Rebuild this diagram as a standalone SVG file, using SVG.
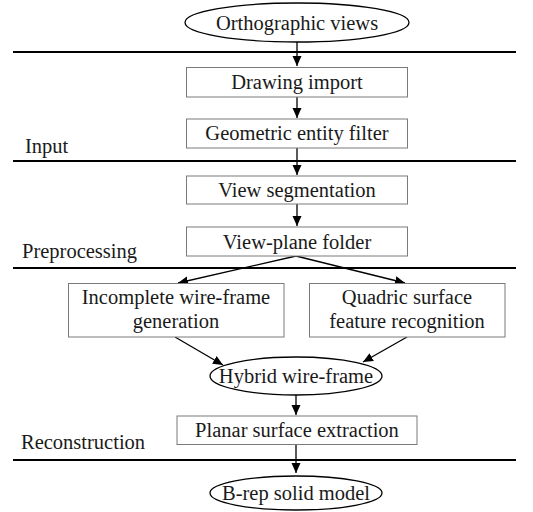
<svg xmlns="http://www.w3.org/2000/svg" width="533" height="512" viewBox="0 0 533 512" font-family="'Liberation Serif', 'Times New Roman', 'DejaVu Serif', serif">
<defs>
<marker id="ah" markerUnits="userSpaceOnUse" markerWidth="10" markerHeight="10" viewBox="0 0 10 10" refX="10" refY="5" orient="auto">
<path d="M0,0.5 L10,5 L0,9.5 Z" fill="#000"/>
</marker>
</defs>
<style>
text{font-family:'Liberation Serif','Times New Roman','DejaVu Serif',serif;font-size:20.5px;fill:#1a1a1a;text-anchor:middle}
.lbl{text-anchor:start}
.box{fill:#fff;stroke:#7a7a7a;stroke-width:1}
.ell{fill:#fff;stroke:#000;stroke-width:1.3}
.sep{stroke:#000;stroke-width:2.2}
.con{stroke:#000;stroke-width:1.3;fill:none;marker-end:url(#ah)}
</style>
<rect width="533" height="512" fill="#fff"/>
<g id="separators">
<line class="sep" x1="13" y1="52" x2="516" y2="52"/>
<line class="sep" x1="13" y1="161" x2="516" y2="161"/>
<line class="sep" x1="13" y1="268" x2="516" y2="268"/>
<line class="sep" x1="13" y1="460" x2="516" y2="460"/>
</g>
<g id="stage-labels">
<text class="lbl" x="25" y="153">Input</text>
<text class="lbl" x="22" y="258">Preprocessing</text>
<text class="lbl" x="21" y="449">Reconstruction</text>
</g>
<g id="connectors">
<line class="con" x1="297" y1="42" x2="297" y2="66"/>
<line class="con" x1="297" y1="97" x2="297" y2="118"/>
<line class="con" x1="297" y1="148" x2="297" y2="175"/>
<line class="con" x1="297" y1="204" x2="297" y2="226"/>
<line class="con" x1="296" y1="256" x2="178" y2="283"/>
<line class="con" x1="296" y1="256" x2="405" y2="283"/>
<line class="con" x1="175" y1="337" x2="223" y2="365"/>
<line class="con" x1="407" y1="337" x2="363" y2="362"/>
<line class="con" x1="296" y1="395" x2="296" y2="415"/>
<line class="con" x1="296" y1="444" x2="296" y2="473"/>
</g>
<g id="orthographic-views">
<ellipse class="ell" cx="297" cy="22.5" rx="112" ry="19.5"/>
<text x="297" y="29.5">Orthographic views</text>
</g>
<g id="drawing-import">
<rect class="box" x="186.5" y="67.5" width="221" height="29.5"/>
<text x="297" y="89">Drawing import</text>
</g>
<g id="geometric-entity-filter">
<rect class="box" x="186.5" y="119" width="221" height="29"/>
<text x="297" y="140">Geometric entity filter</text>
</g>
<g id="view-segmentation">
<rect class="box" x="186.5" y="176" width="221" height="28"/>
<text x="297" y="197">View segmentation</text>
</g>
<g id="view-plane-folder">
<rect class="box" x="186.5" y="227" width="221" height="29"/>
<text x="297" y="248.5">View-plane folder</text>
</g>
<g id="incomplete-wire-frame">
<rect class="box" x="68.5" y="283.5" width="215.5" height="53.5"/>
<text x="176" y="304">Incomplete wire-frame</text>
<text x="176" y="328">generation</text>
</g>
<g id="quadric-surface">
<rect class="box" x="309.5" y="283.5" width="195.5" height="53.5"/>
<text x="407" y="304">Quadric surface</text>
<text x="407" y="328">feature recognition</text>
</g>
<g id="hybrid-wire-frame">
<ellipse class="ell" cx="296" cy="376" rx="86" ry="19"/>
<text x="296" y="382.5">Hybrid wire-frame</text>
</g>
<g id="planar-surface-extraction">
<rect class="box" x="177" y="416" width="240" height="28.5"/>
<text x="297" y="437">Planar surface extraction</text>
</g>
<g id="b-rep-solid-model">
<ellipse class="ell" cx="296" cy="493" rx="86" ry="17"/>
<text x="296" y="500">B-rep solid model</text>
</g>
</svg>
